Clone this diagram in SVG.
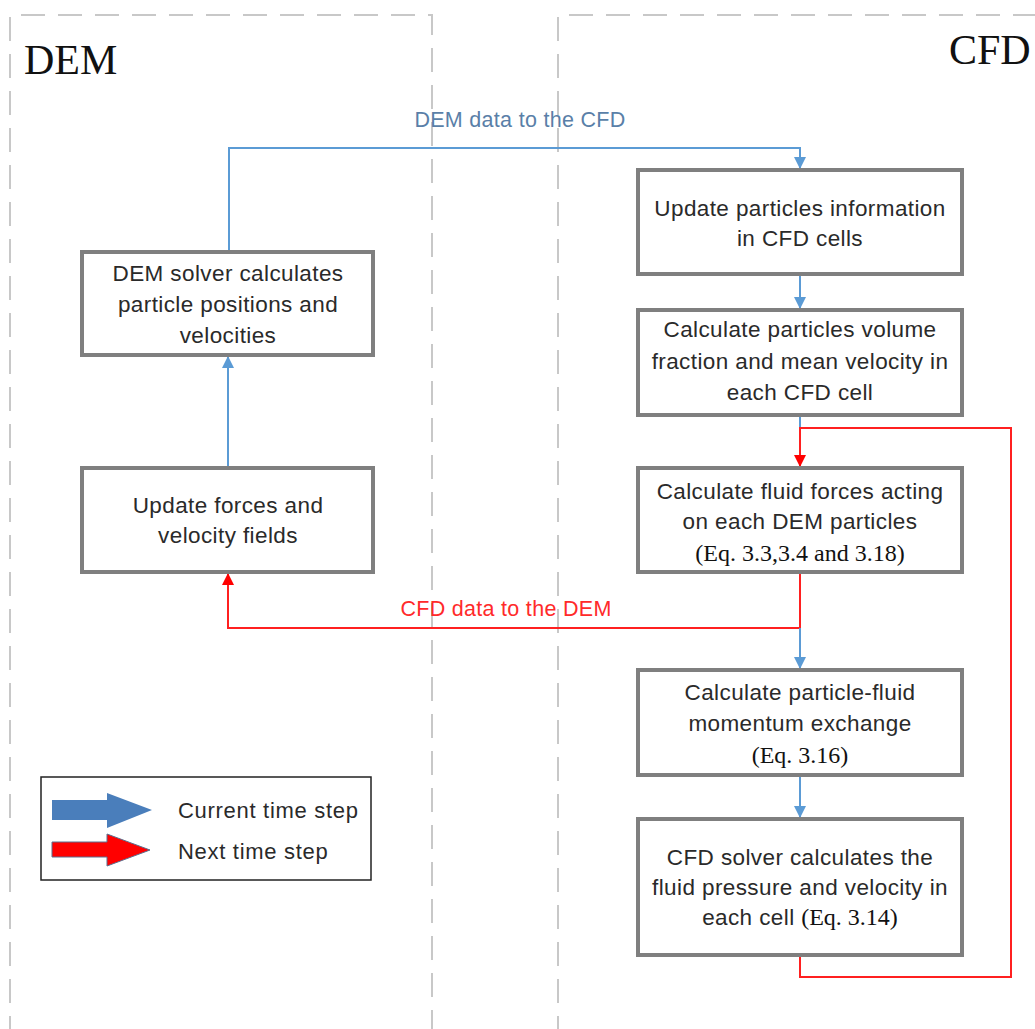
<svg xmlns="http://www.w3.org/2000/svg" width="1035" height="1029" viewBox="0 0 1035 1029">
<defs>
<style>
.region{fill:none;stroke:#c8c8c8;stroke-width:2;stroke-dasharray:24 13}
.box{fill:#fff;stroke:#7f7f7f;stroke-width:4}
.t{font-family:"Liberation Sans",Arial,sans-serif;font-size:22.5px;letter-spacing:0.4px;fill:#2a2a2a;text-anchor:middle}
.eq{font-family:"Liberation Serif","Times New Roman",serif;font-size:24px;fill:#111;text-anchor:middle}
.title{font-family:"Liberation Serif","Times New Roman",serif;font-size:42px;fill:#111}
.blue{fill:none;stroke:#5b9bd5;stroke-width:2}
.red{fill:none;stroke:#ff2020;stroke-width:2}
.lg{font-family:"Liberation Sans",Arial,sans-serif;font-size:22px;letter-spacing:0.7px;fill:#2a2a2a}
.lbl{font-family:"Liberation Sans",Arial,sans-serif;font-size:21.5px;letter-spacing:0.3px;text-anchor:middle}
</style>
<marker id="ab" viewBox="0 0 10 10" refX="10" refY="5" markerWidth="6" markerHeight="6" markerUnits="strokeWidth" orient="auto"><path d="M0,0 L10,5 L0,10 Z" fill="#5b9bd5"/></marker>
<marker id="ar" viewBox="0 0 10 10" refX="10" refY="5" markerWidth="6" markerHeight="6" markerUnits="strokeWidth" orient="auto"><path d="M0,0 L10,5 L0,10 Z" fill="#ff0000"/></marker>
</defs>
<rect width="1035" height="1029" fill="#fff"/>
<g id="regions">
<path class="region" d="M10,1040 V15 H432 V1040"/>
<path class="region" d="M558,1040 V15 H1045"/>
<text class="title" x="24" y="74">DEM</text>
<text class="title" x="949" y="64">CFD</text>
</g>
<g id="connectors">
<path class="blue" d="M229,252 V148 H800 V169" marker-end="url(#ab)"/>
<path class="blue" d="M228,468 V356" marker-end="url(#ab)"/>
<path class="blue" d="M800,274 V309" marker-end="url(#ab)"/>
<path class="blue" d="M800,415 V428"/>
<path class="red" d="M800,955 V977 H1011 V428 H800 V467" marker-end="url(#ar)"/>
<path class="red" d="M800,572 V628 H228 V573" marker-end="url(#ar)"/>
<path class="blue" d="M800,628 V669" marker-end="url(#ab)"/>
<path class="blue" d="M800,775 V818" marker-end="url(#ab)"/>
<text class="lbl" x="520" y="127" fill="#5a7fa8">DEM data to the CFD</text>
<text class="lbl" x="506" y="616" fill="#ff2a2a">CFD data to the DEM</text>
</g>
<g id="dem-solver">
<rect class="box" x="82" y="252" width="291" height="103"/>
<text class="t" x="228" y="281">DEM solver calculates</text>
<text class="t" x="228" y="312">particle positions and</text>
<text class="t" x="228" y="343">velocities</text>
</g>
<g id="update-forces">
<rect class="box" x="82" y="468" width="291" height="104"/>
<text class="t" x="228" y="513">Update forces and</text>
<text class="t" x="228" y="543">velocity fields</text>
</g>
<g id="update-particles">
<rect class="box" x="638" y="170" width="324" height="104"/>
<text class="t" x="800" y="216">Update particles information</text>
<text class="t" x="800" y="246">in CFD cells</text>
</g>
<g id="volume-fraction">
<rect class="box" x="638" y="310" width="324" height="105"/>
<text class="t" x="800" y="337">Calculate particles volume</text>
<text class="t" x="800" y="369">fraction and mean velocity in</text>
<text class="t" x="800" y="400">each CFD cell</text>
</g>
<g id="fluid-forces">
<rect class="box" x="638" y="468" width="324" height="104"/>
<text class="t" x="800" y="499">Calculate fluid forces acting</text>
<text class="t" x="800" y="529">on each DEM particles</text>
<text class="eq" x="800" y="561">(Eq. 3.3,3.4 and 3.18)</text>
</g>
<g id="momentum-exchange">
<rect class="box" x="638" y="670" width="324" height="105"/>
<text class="t" x="800" y="700">Calculate particle-fluid</text>
<text class="t" x="800" y="731">momentum exchange</text>
<text class="eq" x="800" y="763">(Eq. 3.16)</text>
</g>
<g id="cfd-solver">
<rect class="box" x="638" y="819" width="324" height="136"/>
<text class="t" x="800" y="865">CFD solver calculates the</text>
<text class="t" x="800" y="895">fluid pressure and velocity in</text>
<text x="800" y="925" text-anchor="middle"><tspan font-family="Liberation Sans,Arial,sans-serif" font-size="22.5" letter-spacing="0.4" fill="#2a2a2a">each cell </tspan><tspan font-family="Liberation Serif,Times New Roman,serif" font-size="24" fill="#111">(Eq. 3.14)</tspan></text>
</g>
<g id="legend">
<rect x="41" y="777" width="330" height="103" fill="#fff" stroke="#222" stroke-width="1.5"/>
<path d="M52,800 H107 V793 L152,810 L107,828 V820 H52 Z" fill="#4a7ebb"/>
<path d="M52,842 H107 V834 L150,850 L107,866 V857 H52 Z" fill="#ff0000" stroke="#5a6f8f" stroke-width="1"/>
<text class="lg" x="178" y="818">Current time step</text>
<text class="lg" x="178" y="859">Next time step</text>
</g>
</svg>
